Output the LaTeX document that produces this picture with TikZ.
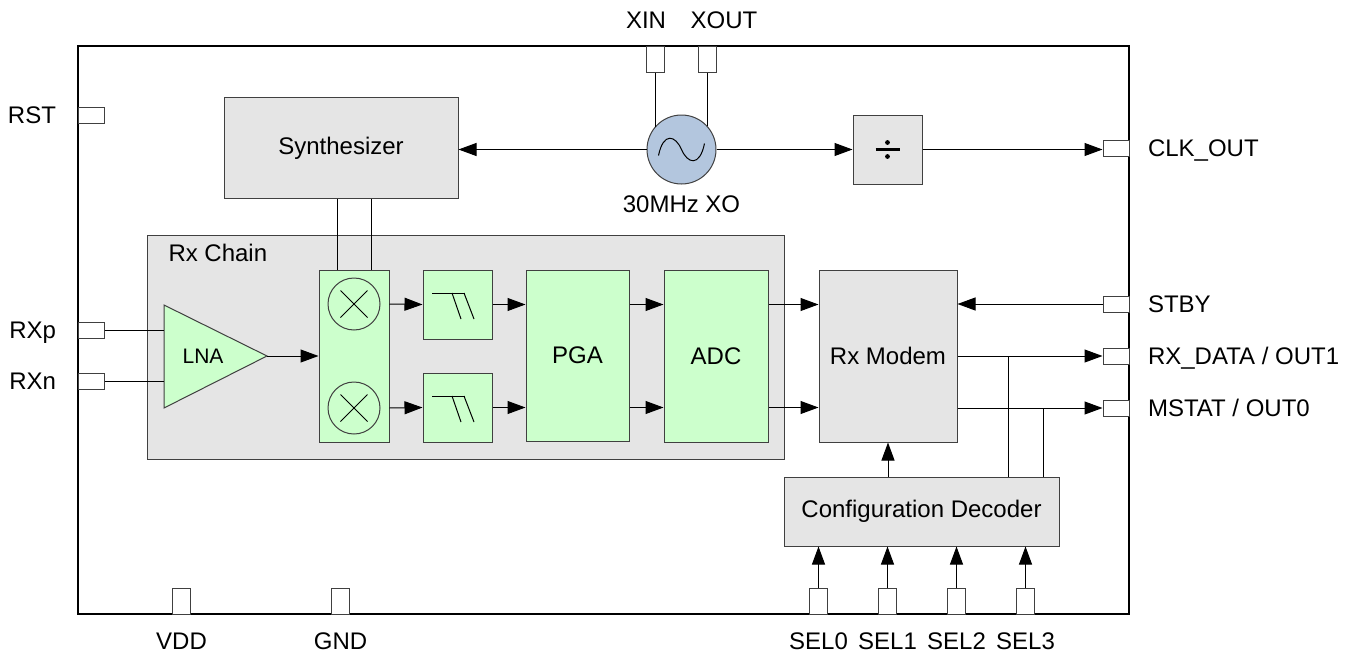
\documentclass[tikz,border=0pt]{standalone}
\usepackage{fontspec}
\setmainfont{Liberation Sans}
\usetikzlibrary{calc,positioning,arrows.meta}
\definecolor{boxgray}{HTML}{E5E5E5}
\definecolor{boxgreen}{HTML}{CCFFCC}
\definecolor{xoblue}{HTML}{B3C6DE}
\definecolor{edge}{HTML}{404040}

\begin{document}
\begin{tikzpicture}[x=1pt,y=-1pt,line width=1pt,
  every node/.style={font=\fontsize{24}{28}\selectfont},
  chipbox/.style={draw=black, line width=1.3pt, inner sep=0},
  graybox/.style={draw=edge, fill=boxgray, inner sep=0},
  greenbox/.style={draw=edge, fill=boxgreen, inner sep=0},
  pinh/.style={draw=edge, fill=white, inner sep=0, minimum width=26, minimum height=16},
  pinv/.style={draw=edge, fill=white, inner sep=0, minimum width=18, minimum height=26},
  lbl/.style={inner sep=0, text depth=0pt},
  arr/.style={-{Triangle[length=18pt,width=13pt]}}]
\useasboundingbox (0,0) rectangle (1361,656);

% chip outline and Rx chain frame
\node[chipbox, minimum width=1051, minimum height=568] (chip) at (603.5,330) {};
\node[graybox, minimum width=637, minimum height=224] (rxchain) at (465.5,347) {};
\node[lbl, anchor=west] at (168,253) {Rx Chain};

% clock section
\node[graybox, minimum width=234, minimum height=101] (synth) at (341,148) {Synthesizer};
\node[circle, draw=edge, fill=xoblue, minimum size=69, inner sep=0] (osc) at (681.5,149.5) {};
\draw ($(osc)+(-23,6)$) .. controls ($(osc)+(-18,-18)$) and ($(osc)+(-6,-14)$) .. (osc.center)
      .. controls ($(osc)+(6,14)$) and ($(osc)+(18,18)$) .. ($(osc)+(23,-6)$);
\node[lbl, below=11pt of osc] {30MHz XO};
\node[graybox, minimum size=69] (div) at (887.5,149.5) {};
% divide sign
\draw[line width=2.2pt] ($(div)+(-12,0)$) -- ($(div)+(12,0)$);
\fill ($(div)+(0,-7)$) circle (2.4);
\fill ($(div)+(0,7)$) circle (2.4);

% pins
\node[pinv] (xin) at (655,59) {};
\node[pinv] (xout) at (707,59) {};
\node[lbl] at (646,20) {XIN};
\node[lbl] at (724,20) {XOUT};
\foreach \n/\y/\t in {rst/115/RST, rxp/330/RXp, rxn/381/RXn} {
    \node[pinh] (\n) at (91,\y) {};
    \node[lbl, left=21pt of \n] {\t};
}
\foreach \n/\y/\t in {clk/148/{CLK\_OUT}, stby/304/{STBY}, rxd/356/{RX\_DATA / OUT1}, mst/408/{MSTAT / OUT0}} {
    \node[pinh] (\n) at (1116,\y) {};
    \node[lbl, right=18pt of \n] {\t};
}
\foreach \n/\x/\t in {vdd/181.5/VDD, gnd/340.5/GND, sel0/818.5/SEL0, sel1/887.5/SEL1, sel2/956.5/SEL2, sel3/1025.5/SEL3} {
    \node[pinv] (\n) at (\x,601) {};
    \node[lbl, below=18pt of \n] {\t};
}

% receive chain
\draw[draw=edge, fill=boxgreen] (164,305) coordinate (lnaA) -- (267,356) coordinate (lnaout)
      -- (164,408) coordinate (lnaB) -- cycle;
\node[font=\fontsize{21}{24}\selectfont] (lna) at (203,356) {LNA};
\node[greenbox, minimum width=70, minimum height=172] (mix) at (354,356) {};
\node[circle, draw=edge, minimum size=52, inner sep=0] (mixA) at (354,304) {};
\node[circle, draw=edge, minimum size=52, inner sep=0] (mixB) at (354,408) {};
\foreach \m in {mixA,mixB} {
    \draw ($(\m)+(-13.5,-13.5)$) -- ($(\m)+(13.5,13.5)$);
    \draw ($(\m)+(-13.5,13.5)$) -- ($(\m)+(13.5,-13.5)$);
}
\node[greenbox, minimum size=69] (filtA) at (457.5,304.5) {};
\node[greenbox, minimum size=69] (filtB) at (457.5,407.5) {};
\foreach \f in {filtA,filtB} {
    \draw ($(\f)+(-25.5,-11.5)$) -- ($(\f)+(7.5,-11.5)$);
    \draw ($(\f)+(-5.5,-11.5)$) -- ($(\f)+(3.5,14.5)$);
    \draw ($(\f)+(6.5,-11.5)$) -- ($(\f)+(16.5,14.5)$);
}
\node[greenbox, minimum width=103, minimum height=171] (pga) at (577.5,355.5) {PGA};
\node[greenbox, minimum width=104, minimum height=172] (adc) at (716,356) {ADC};
\node[graybox, minimum width=138, minimum height=172] (modem) at (888,356) {Rx Modem};
\node[graybox, minimum width=275, minimum height=69] (dec) at (921.5,511.5) {Configuration Decoder};

% connections
\draw[arr] (osc.west) -- (osc.west -| synth.east);
\draw[arr] (osc.east) -- (div.west);
\draw[arr] (div.east) -- (div.east -| clk.west);
\draw (xin.south) -- (xin.south |- osc.140);
\draw (xout.south) -- (xout.south |- osc.42);
\coordinate (m1) at ($(mix.north)+(-17,0)$);
\coordinate (m2) at ($(mix.north)+(17,0)$);
\draw (m1) -- (m1 |- synth.south);
\draw (m2) -- (m2 |- synth.south);
\draw (rxp.east) -- (rxp.east -| lnaA);
\draw (rxn.east) -- (rxn.east -| lnaB);
\draw[arr] (lnaout) -- (lnaout -| mix.west);
\foreach \m/\f in {mixA/filtA, mixB/filtB} {
    \draw[arr] (\m -| mix.east) -- (\f.west);
    \draw[arr] (\f.east) -- (\f.east -| pga.west);
    \draw[arr] (pga.east |- \f) -- (adc.west |- \f);
    \draw[arr] (adc.east |- \f) -- (modem.west |- \f);
}
\draw[arr] (stby.west) -- (stby.west -| modem.east);
\draw[arr] (modem.east |- rxd) -- (rxd.west);
\draw[arr] (modem.east |- mst) -- (mst.west);
\draw[arr] (modem.south |- dec.north) -- (modem.south);
\coordinate (t1) at (1008,356);
\coordinate (t2) at (1043,408);
\draw (t1 |- dec.north) -- (t1);
\draw (t2 |- dec.north) -- (t2);
\foreach \i in {0,...,3} {
    \draw[arr] (sel\i.north) -- (sel\i.north |- dec.south);
}
\end{tikzpicture}
\end{document}
